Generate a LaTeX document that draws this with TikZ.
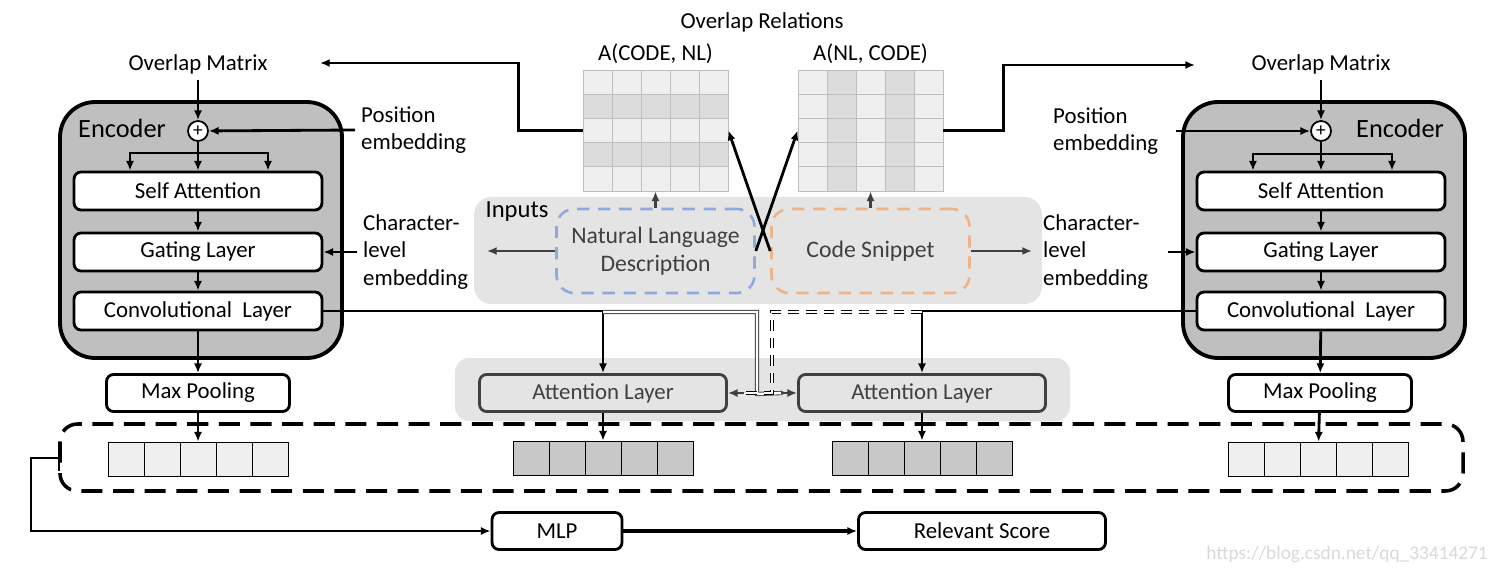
\documentclass[tikz,border=0pt]{standalone}
\usepackage{fontspec}
\setmainfont{Carlito}
\usetikzlibrary{arrows,arrows.meta,positioning,shapes}
\definecolor{encgray}{HTML}{BFBFBF}
\definecolor{panelgray}{HTML}{E4E4E4}
\definecolor{cellpale}{HTML}{EFEFEF}
\definecolor{celldark}{HTML}{C8C8C8}
\definecolor{gridline}{HTML}{BEBEBE}
\definecolor{rowdark}{HTML}{DCDCDC}
\definecolor{nlblue}{HTML}{8EA9DB}
\definecolor{codeorange}{HTML}{EDB48A}
\definecolor{inkgray}{HTML}{404040}

\begin{document}
\begin{tikzpicture}[x=0.02cm,y=-0.02cm,font=\fontsize{13}{15.6}\selectfont]
			\tikzstyle{encoder} = [rectangle, draw, line width=2.2pt, fill=encgray, rounded corners=0.7cm, minimum width=5.64cm, minimum height=5.12cm]
			\tikzstyle{layer} = [rectangle, draw, line width=1.6pt, fill=white, rounded corners=4pt, minimum width=4.96cm, minimum height=0.76cm, inner sep=0pt]
			\tikzstyle{pool} = [layer, minimum width=3.66cm, minimum height=0.74cm]
			\tikzstyle{attn} = [layer, draw=inkgray, fill=panelgray, text=inkgray, minimum width=4.94cm, minimum height=0.74cm]
			\tikzstyle{cell} = [rectangle, draw, thin, minimum width=0.72cm, minimum height=0.68cm, inner sep=0pt]
			\tikzstyle{inbox} = [rectangle, dashed, line width=1.5pt, dash pattern=on 7pt off 5pt, rounded corners=10pt, text=inkgray, align=center, minimum width=3.96cm, minimum height=1.68cm, font=\fontsize{13.5}{16}\selectfont]
			\tikzstyle{entry} = [align=left, anchor=west]
			\tikzstyle{arrow} = [draw, -{Latex[length=5.5pt,width=4.6pt]}, line width=1.6pt]
			\tikzstyle{arrowgray} = [arrow, inkgray]
			\tikzstyle{dbl} = [draw, double, double distance=1.4pt, line width=0.5pt]
			\useasboundingbox (0,0) rectangle (1498,574);

			% backgrounds
			\fill[panelgray, rounded corners=10pt] (474,197) rectangle (1042,304);
			\fill[panelgray, rounded corners=8pt] (455,358) rectangle (1070,421);
			\draw[line width=2pt, dash pattern=on 12pt off 6pt, rounded corners=10pt] (60,424) rectangle (1463,491);

			% left encoder
			\node [encoder] (encL) at (201,230) {};
			\node [font=\fontsize{15}{18}\selectfont] at (122,128) {Encoder};
			\node (omL) at (198,64) {Overlap Matrix};
			\node [circle, draw, line width=1pt, fill=white, inner sep=0pt, minimum size=0.4cm, font=\fontsize{11}{11}\selectfont] (plusL) at (198,131) {+};
			\node [layer] (saL) at (198,191) {Self Attention};
			\node [layer] (glL) at (198,252) {Gating Layer};
			\node [layer] (clL) at (198,311) {Convolutional\ \ Layer};
			\node [pool] (mpL) at (198,393) {Max Pooling};
			\node [entry] (posL) at (355,130) {Position\\embedding};
			\node [entry] (charL) at (357,252) {Character-\\level\\embedding};
			\coordinate (splL) at (198,153);

			% right encoder
			\node [encoder] (encR) at (1324,230) {};
			\node [font=\fontsize{15}{18}\selectfont] at (1400,128) {Encoder};
			\node (omR) at (1321,64) {Overlap Matrix};
			\node [circle, draw, line width=1pt, fill=white, inner sep=0pt, minimum size=0.4cm, font=\fontsize{11}{11}\selectfont] (plusR) at (1321,131) {+};
			\node [layer] (saR) at (1321,191) {Self Attention};
			\node [layer] (glR) at (1321,252) {Gating Layer};
			\node [layer] (clR) at (1321,311) {Convolutional\ \ Layer};
			\node [pool] (mpR) at (1320,393) {Max Pooling};
			\node [entry] (posR) at (1047,131) {Position\\embedding};
			\node [entry] (charR) at (1037,252) {Character-\\level\\embedding};
			\coordinate (splR) at (1321,154);
			\coordinate (posRin) at (1176,131);
			\coordinate (charRin) at (1168,252);

			% overlap relations
			\node at (762,22) {Overlap Relations};
			\foreach \r in {0,...,4} {
				\ifodd\r \def\rc{rowdark}\else \def\rc{cellpale}\fi
				\foreach \c in {0,...,4} {
					\filldraw[fill=\rc, draw=gridline, thin] (583+29*\c,70+24.2*\r) rectangle ++(29,24.2);
				}
			}
			\foreach \c in {0,...,4} {
				\ifodd\c \def\cc{rowdark}\else \def\cc{cellpale}\fi
				\foreach \r in {0,...,4} {
					\filldraw[fill=\cc, draw=gridline, thin] (798+29*\c,70+24.2*\r) rectangle ++(29,24.2);
				}
			}
			\node [minimum width=2.9cm, minimum height=2.42cm, inner sep=0pt] (matL) at (655.5,130.5) {};
			\node [minimum width=2.9cm, minimum height=2.42cm, inner sep=0pt] (matR) at (870.5,130.5) {};
			\node [above=0pt of matL] {A(CODE, NL)};
			\node [above=0pt of matR] {A(NL, CODE)};
			\coordinate (tipL) at (320,63);
			\coordinate (tipR) at (1195,65);

			% inputs
			\node [font=\fontsize{14}{16}\selectfont] at (517,212) {Inputs};
			\node [inbox, draw=nlblue] (nl) at (655.5,251) {Natural Language\\Description};
			\node [inbox, draw=codeorange] (code) at (870.5,251) {Code Snippet};
			\coordinate (nlout) at (487,251);
			\coordinate (codeout) at (1032,251);

			% attention
			\node [attn] (atL) at (603,393) {Attention Layer};
			\node [attn] (atR) at (922,393) {Attention Layer};
			\coordinate (jL) at (603,312);
			\coordinate (kL) at (757,394);
			\coordinate (jR) at (922,312);
			\coordinate (kR) at (772,393);

			% vectors
			\foreach \i in {0,...,4} {
				\node [cell, fill=cellpale] (vL\i) at (126+36*\i,459) {};
				\node [cell, fill=celldark] (vA\i) at (531+36*\i,458) {};
				\node [cell, fill=celldark] (vB\i) at (850+36*\i,458) {};
				\node [cell, fill=cellpale] (vR\i) at (1246+36*\i,459) {};
			}

			% output
			\node [layer, minimum width=2.6cm, minimum height=0.74cm] (mlp) at (557,531) {MLP};
			\node [layer, minimum width=4.94cm, minimum height=0.74cm] (score) at (982,531) {Relevant Score};
			\coordinate (grab) at (59,458);
			\node [anchor=east, text=gray!30, font=\fontsize{11}{13}\selectfont] at (1494,554) {https://blog.csdn.net/qq\_33414271};

			% left encoder arrows
			\path[arrow] (omL) -- (plusL);
			\path[arrow] (posL.west) -- (plusL);
			\path[arrow] (plusL) -- (saL);
			\path[arrow] (splL) -| ([xshift=-1.36cm]saL.north);
			\path[arrow] (splL) -| ([xshift=1.4cm]saL.north);
			\path[arrow] (saL) -- (glL);
			\path[arrow] (glL) -- (clL);
			\path[arrow] (charL.west) -- (glL.east);
			\path[arrow] (clL) -- (mpL);
			\path[arrow] (mpL) -- (vL2);

			% right encoder arrows
			\path[arrow] (omR) -- (plusR);
			\path[arrow] (posRin) -- (plusR);
			\path[arrow] (plusR) -- (saR);
			\path[arrow] (splR) -| ([xshift=-1.36cm]saR.north);
			\path[arrow] (splR) -| ([xshift=1.42cm]saR.north);
			\path[arrow] (saR) -- (glR);
			\path[arrow] (glR) -- (clR);
			\path[arrow] (charRin) -- (glR.west);
			\path[arrow] (clR) -- (mpR);
			\path[arrow] (mpR) -- (vR2);

			% overlap matrices
			\path[arrow] (matL.west) -- ++(-64,0) |- (tipL);
			\path[arrow] (matR.east) -- ++(60,0) |- (tipR);
			\path[arrowgray] (nl.north) -- (matL.south);
			\path[arrowgray] (code.north) -- (matR.south);
			\path[arrow] (nl.east) -- (matR.west);
			\path[arrow] (code.west) -- (matL.east);
			\path[arrowgray] (nl.west) -- (nlout);
			\path[arrowgray] (code.east) -- (codeout);

			% attention layers
			\path[arrow] (clL.east) -| (atL.north);
			\path[arrow] (clR.west) -| (atR.north);
			\path[dbl, draw=inkgray] (jL) -| (kL) -- ([xshift=-8pt]atR.west);
			\path[dbl, dashed, dash pattern=on 6pt off 4pt] (jR) -| (kR) -- ([xshift=8pt]atL.east);
			\path[arrowgray, line width=1.1pt] ([xshift=-9pt]atR.west) -- (atR.west);
			\path[arrowgray, line width=1.1pt] ([xshift=9pt]atL.east) -- (atL.east);
			\path[arrow] (atL) -- (vA2);
			\path[arrow] (atR) -- (vB2);

			% score
			\draw[line width=1.6pt] ([yshift=0.26cm]grab) -- ([yshift=-0.26cm]grab);
			\path[arrow] (grab) -- ++(-28,0) |- (mlp.west);
			\path[arrow, line width=2.2pt] (mlp) -- (score);
		\end{tikzpicture}
\end{document}
